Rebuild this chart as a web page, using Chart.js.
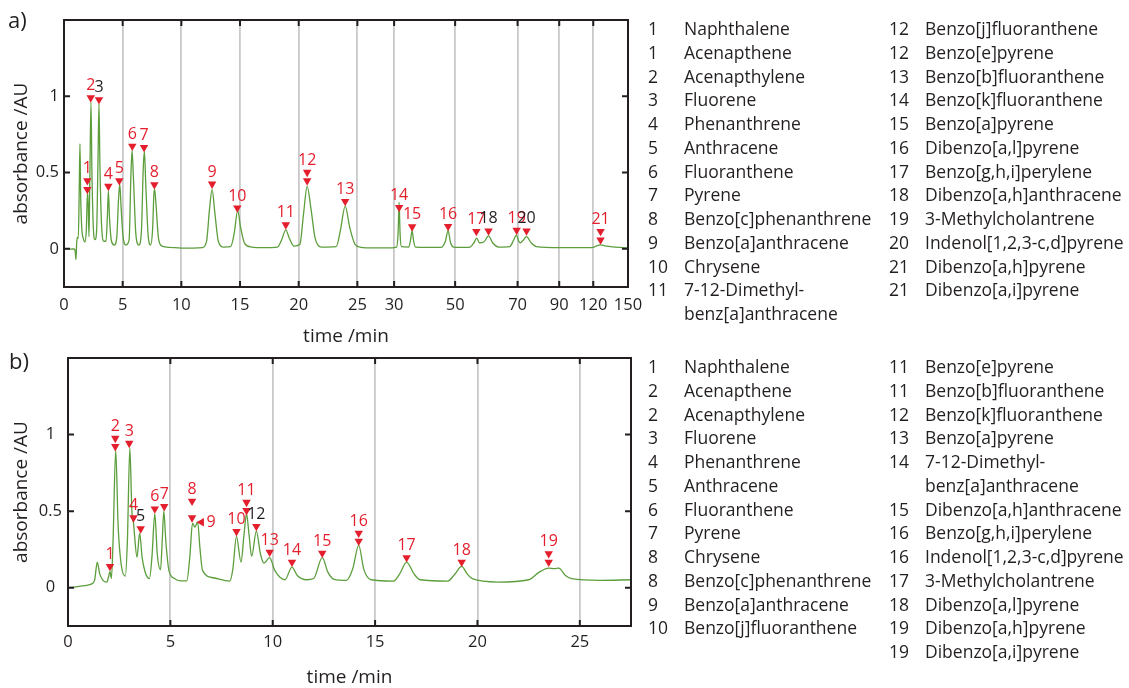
<!DOCTYPE html>
<html>
<head>
<meta charset="utf-8">
<script src="https://cdn.jsdelivr.net/npm/chart.js@4.4.1/dist/chart.umd.min.js"></script>
<style>
html,body{margin:0;padding:0;background:#fff;}
body{width:1129px;height:688px;position:relative;overflow:hidden;font-family:"Open Sans",sans-serif;color:#231f20;}
canvas{position:absolute;left:0;}
.panel{position:absolute;font-size:22px;line-height:22px;}
.leg{position:absolute;font-size:17.5px;line-height:23.75px;white-space:nowrap;}
.leg div{height:23.75px;}
</style>
</head>
<body>
<canvas id="cA" width="660" height="350" style="top:0px"></canvas>
<canvas id="cB" width="660" height="350" style="top:340px"></canvas>
<div class="panel" style="left:8px;top:8px;">a)</div>
<div class="panel" style="left:9px;top:349px;">b)</div>
<div id="legA"></div>
<div id="legB"></div>
<script>
// ================= DATA =================
// Panel a) chromatogram trace: [time /min, absorbance /AU]
const chromA = [
 [0,0],[0.3,0.002],[0.6,-0.002],[0.88,0],[0.96,-0.02],[1.02,-0.07],[1.08,0.04],[1.14,0.075],[1.22,0.07],[1.3,0.4],
 [1.36,0.69],[1.42,0.35],[1.52,0.13],[1.64,0.07],[1.78,0.045],[1.9,0.12],[2.0,0.37],[2.06,0.3],[2.13,0.08],[2.2,0.45],
 [2.3,0.96],[2.38,0.5],[2.5,0.14],[2.64,0.06],[2.78,0.12],[2.9,0.6],[2.98,0.95],[3.06,0.55],[3.2,0.16],[3.4,0.05],
 [3.58,0.05],[3.7,0.22],[3.78,0.38],[3.88,0.2],[4.05,0.05],[4.3,0.025],[4.5,0.08],[4.65,0.33],[4.75,0.425],[4.86,0.28],
 [5.02,0.09],[5.28,0.025],[5.55,0.06],[5.7,0.48],[5.8,0.645],[5.92,0.46],[6.12,0.1],[6.38,0.025],[6.6,0.12],[6.75,0.52],
 [6.85,0.64],[6.97,0.42],[7.18,0.08],[7.38,0.025],[7.55,0.13],[7.66,0.36],[7.73,0.39],[7.85,0.28],[8.05,0.07],[8.35,0.018],
 [9.0,0.01],[10.0,0.005],[11.0,0.005],[11.8,0.008],[12.15,0.05],[12.4,0.26],[12.62,0.39],[12.85,0.24],[13.15,0.05],[13.6,0.012],
 [14.2,0.015],[14.5,0.1],[14.8,0.25],[15.05,0.14],[15.4,0.035],[16.0,0.012],[17.0,0.008],[18.2,0.012],[18.55,0.06],[18.9,0.125],
 [19.2,0.07],[19.6,0.018],[20.1,0.03],[20.4,0.22],[20.72,0.41],[21.05,0.26],[21.4,0.07],[22.0,0.012],[23.2,0.015],[23.55,0.12],
 [23.96,0.28],[24.35,0.14],[24.8,0.03],[25.5,0.01],[27.0,0.006],[29.0,0.006],[30.8,0.012],[31.3,0.1],[31.64,0.305],[31.95,0.1],
 [32.4,0.015],[34.8,0.012],[35.4,0.06],[35.9,0.12],[36.4,0.05],[37.0,0.012],[45.5,0.01],[46.8,0.05],[47.7,0.12],[48.5,0.04],
 [49.5,0.012],[54.5,0.01],[56.0,0.04],[56.9,0.07],[57.8,0.04],[59.2,0.045],[60.7,0.085],[62.0,0.04],[64.0,0.012],[67.5,0.015],
 [68.8,0.06],[69.6,0.09],[70.6,0.05],[71.3,0.04],[72.6,0.055],[74.3,0.08],[76.5,0.04],[79.0,0.015],[90.0,0.008],[110.0,0.008],
 [120.0,0.01],[123.0,0.02],[126.3,0.026],[130.0,0.02],[135.0,0.015],[145.0,0.008],[150.0,0.005]
];
// Panel a) peak markers
const peakTimeA  = [1.99,1.99,2.28,2.98,3.78,4.71,5.82,6.82,7.70,12.62,14.77,18.9,20.72,20.72,23.96,31.64,35.9,47.7,56.8,60.7,69.7,74.3,126.3,126.3];
const peakMarkA  = [0.447,0.39,0.99,0.978,0.41,0.447,0.673,0.665,0.421,0.425,0.268,0.158,0.502,0.446,0.311,0.272,0.145,0.147,0.114,0.118,0.123,0.118,0.114,0.059];
const peakLabelA = ['1','','2','3','4','5','6','7','8','9','10','11','12','','13','14','15','16','17','18','19','20','21',''];
const xTicksA      = [0,5,10,15,20,25,30,50,70,90,120,150];
const xTickLabelsA = ['0','5','10','15','20','25','30','50','70','90','120','150'];

// Panel b) chromatogram trace
const chromB = [
 [0,0],[0.3,0.004],[0.6,0.01],[0.9,0.015],[1.15,0.025],[1.3,0.05],[1.43,0.167],[1.55,0.09],[1.7,0.05],[1.89,0.036],
 [1.98,0.07],[2.05,0.106],[2.12,0.06],[2.2,0.3],[2.33,0.9],[2.45,0.4],[2.6,0.15],[2.8,0.076],[2.9,0.3],[3.02,0.913],
 [3.12,0.5],[3.2,0.42],[3.37,0.2],[3.5,0.356],[3.62,0.2],[3.8,0.09],[3.98,0.06],[4.1,0.2],[4.24,0.483],[4.36,0.22],
 [4.52,0.117],[4.6,0.3],[4.68,0.5],[4.78,0.3],[4.93,0.113],[5.2,0.06],[5.5,0.045],[5.8,0.045],[5.95,0.2],[6.08,0.42],
 [6.2,0.395],[6.33,0.43],[6.45,0.25],[6.57,0.113],[7.1,0.065],[7.9,0.043],[8.05,0.12],[8.23,0.335],[8.45,0.167],[8.6,0.35],
 [8.72,0.483],[8.84,0.35],[8.97,0.204],[9.2,0.37],[9.4,0.22],[9.57,0.16],[9.85,0.196],[10.1,0.113],[10.6,0.052],[10.94,0.135],
 [11.2,0.08],[11.65,0.052],[12.0,0.06],[12.42,0.196],[12.7,0.1],[13.0,0.055],[13.6,0.048],[13.9,0.12],[14.2,0.276],[14.45,0.12],
 [14.8,0.052],[15.9,0.043],[16.2,0.09],[16.54,0.167],[16.9,0.09],[17.2,0.052],[18.55,0.043],[18.9,0.09],[19.23,0.139],[19.5,0.09],
 [19.75,0.059],[21.0,0.037],[22.5,0.052],[23.0,0.1],[23.48,0.128],[23.75,0.124],[23.97,0.128],[24.3,0.08],[24.6,0.059],[26.0,0.048],
 [27.5,0.052]
];
const peakTimeB  = [2.05,2.31,2.31,2.99,3.2,3.55,4.24,4.70,6.06,6.06,6.52,8.23,8.72,8.72,9.2,9.85,10.94,12.42,14.2,14.2,16.54,19.23,23.48,23.48];
const peakMarkB  = [0.139,0.976,0.922,0.943,0.457,0.385,0.515,0.53,0.565,0.457,0.428,0.367,0.558,0.504,0.40,0.232,0.167,0.226,0.356,0.304,0.196,0.167,0.222,0.167];
const peakLabelB = ['1','2','','3','4','5','6','7','8','','9','10','11','','12','13','14','15','16','','17','18','19',''];
const xTicksB      = [0,5,10,15,20,25];
const xTickLabelsB = ['0','5','10','15','20','25'];

const yTicks      = [0,0.5,1];
const yTickLabels = ['0','0.5','1'];

// Legends
const legNumA1  = ['1','1','2','3','4','5','6','7','8','9','10','11',''];
const legNameA1 = ['Naphthalene','Acenapthene','Acenapthylene','Fluorene','Phenanthrene','Anthracene','Fluoranthene','Pyrene','Benzo[c]phenanthrene','Benzo[a]anthracene','Chrysene','7-12-Dimethyl-','benz[a]anthracene'];
const legNumA2  = ['12','12','13','14','15','16','17','18','19','20','21','21'];
const legNameA2 = ['Benzo[j]fluoranthene','Benzo[e]pyrene','Benzo[b]fluoranthene','Benzo[k]fluoranthene','Benzo[a]pyrene','Dibenzo[a,l]pyrene','Benzo[g,h,i]perylene','Dibenzo[a,h]anthracene','3-Methylcholantrene','Indenol[1,2,3-c,d]pyrene','Dibenzo[a,h]pyrene','Dibenzo[a,i]pyrene'];
const legNumB1  = ['1','2','2','3','4','5','6','7','8','8','9','10'];
const legNameB1 = ['Naphthalene','Acenapthene','Acenapthylene','Fluorene','Phenanthrene','Anthracene','Fluoranthene','Pyrene','Chrysene','Benzo[c]phenanthrene','Benzo[a]anthracene','Benzo[j]fluoranthene'];
const legNumB2  = ['11','11','12','13','14','','15','16','16','17','18','19','19'];
const legNameB2 = ['Benzo[e]pyrene','Benzo[b]fluoranthene','Benzo[k]fluoranthene','Benzo[a]pyrene','7-12-Dimethyl-','benz[a]anthracene','Dibenzo[a,h]anthracene','Benzo[g,h,i]perylene','Indenol[1,2,3-c,d]pyrene','3-Methylcholantrene','Dibenzo[a,l]pyrene','Dibenzo[a,h]pyrene','Dibenzo[a,i]pyrene'];

// ================= STYLE / SCALE CONFIG =================
const INK = '#231f20', RED = '#e41f2d', GREEN = '#5c9e3c', GRID = '#c9c9c9';
const FONT = '"Open Sans", sans-serif';
Chart.defaults.font.family = FONT;
Chart.defaults.color = INK;

// panel a uses a segmented (non-uniform) time axis: axis position of each tick time
const axisPosA = [0,5,10,15,20,25,28.13,33.33,38.65,42.2,45.1,48.06];
function segmentMap(times, pos) {
  return t => {
    for (let i = 1; i < times.length; i++) {
      if (t <= times[i]) {
        const f = (t - times[i-1]) / (times[i] - times[i-1]);
        return pos[i-1] + f * (pos[i] - pos[i-1]);
      }
    }
    return pos[pos.length-1];
  };
}
const mapA = segmentMap(xTicksA, axisPosA);
const mapB = t => t;

const darkLabelsA = ['3','18','20'];
const darkLabelsB = ['5','12'];
const leftMarkersB = ['9'];

const framePlugin = {
  id: 'frame',
  afterDraw(chart) {
    const {ctx, chartArea: a, scales: {x, y}} = chart;
    ctx.save();
    ctx.strokeStyle = INK;
    ctx.lineWidth = 2;
    ctx.strokeRect(a.left, a.top, a.right - a.left, a.bottom - a.top);
    ctx.beginPath();
    x.ticks.forEach(tk => {
      const px = x.getPixelForValue(tk.value);
      if (px > a.left + 2 && px < a.right - 2) {
        ctx.moveTo(px, a.top); ctx.lineTo(px, a.top + 6);
        ctx.moveTo(px, a.bottom); ctx.lineTo(px, a.bottom - 6);
      }
    });
    y.ticks.forEach(tk => {
      const py = y.getPixelForValue(tk.value);
      ctx.moveTo(a.left, py); ctx.lineTo(a.left + 6, py);
      ctx.moveTo(a.right, py); ctx.lineTo(a.right - 6, py);
    });
    ctx.stroke();
    ctx.restore();
  }
};

const peakLabelPlugin = {
  id: 'peakLabels',
  afterDatasetsDraw(chart, args, opts) {
    const meta = chart.getDatasetMeta(0);
    const ctx = chart.ctx;
    ctx.save();
    ctx.font = '16px ' + FONT;
    ctx.textBaseline = 'middle';
    meta.data.forEach((el, i) => {
      const txt = opts.labels[i];
      if (!txt) return;
      ctx.fillStyle = opts.dark.includes(txt) ? INK : RED;
      if (opts.left.includes(txt)) {
        ctx.textAlign = 'left';
        ctx.fillText(txt, el.x + 5, el.y);
      } else {
        ctx.textAlign = 'center';
        ctx.fillText(txt, el.x, el.y - 12);
      }
    });
    ctx.restore();
  }
};

function buildChart(id, p) {
  const lineData = p.chrom.map(d => ({x: p.map(d[0]), y: d[1]}));
  const markData = p.peakTime.map((t, i) => ({x: p.map(t), y: p.peakMark[i]}));
  const tickPos = p.xTicks.map(p.map);
  return new Chart(document.getElementById(id), {
    type: 'scatter',
    data: {
      datasets: [
        {
          data: markData, showLine: false, order: 0,
          pointStyle: 'triangle', pointRadius: 4.9, pointHoverRadius: 4.9,
          rotation: c => p.left.includes(p.labels[c.dataIndex]) ? 270 : 180,
          backgroundColor: RED, borderWidth: 0
        },
        {
          data: lineData, showLine: true, order: 1,
          borderColor: GREEN, borderWidth: 1.3, pointRadius: 0,
          cubicInterpolationMode: 'monotone'
        }
      ]
    },
    options: {
      responsive: false, animation: false, devicePixelRatio: 1,
      events: [],
      layout: {padding: {top: p.padTop, right: p.padRight, left: 0, bottom: 0}},
      plugins: {
        legend: {display: false}, tooltip: {enabled: false},
        peakLabels: {labels: p.labels, dark: p.dark, left: p.left}
      },
      scales: {
        x: {
          type: 'linear', min: 0, max: p.xMax,
          afterBuildTicks: s => { s.ticks = tickPos.map(v => ({value: v})); },
          afterFit: s => { s.height = p.xHeight; },
          grid: {color: GRID, lineWidth: 1.8, drawTicks: false},
          border: {display: false},
          ticks: {padding: p.xTickPad, color: INK, font: {size: 16.5}, autoSkip: false, maxRotation: 0,
                  callback: (v, i) => p.xTickLabels[i]},
          title: {display: true, text: 'time /min', color: INK, font: {size: 19}, padding: {top: 0, bottom: p.xTitlePad}}
        },
        y: {
          type: 'linear', min: -0.25, max: 1.5,
          afterBuildTicks: s => { s.ticks = yTicks.map(v => ({value: v})); },
          afterFit: s => { s.width = p.yWidth; },
          grid: {display: false, drawTicks: false},
          border: {display: false},
          ticks: {padding: p.yTickPad, crossAlign: p.crossAlign, color: INK, font: {size: 16.5},
                  callback: (v, i) => yTickLabels[i]},
          title: {display: true, text: 'absorbance /AU', color: INK, font: {size: 19}, padding: {top: 10, bottom: 0}}
        }
      }
    },
    plugins: [framePlugin, peakLabelPlugin]
  });
}

buildChart('cA', {
  chrom: chromA, peakTime: peakTimeA, peakMark: peakMarkA, labels: peakLabelA,
  dark: darkLabelsA, left: [], map: mapA, xTicks: xTicksA, xTickLabels: xTickLabelsA,
  xMax: axisPosA[axisPosA.length-1], padTop: 20, padRight: 32, xHeight: 63, yWidth: 64,
  xTickPad: 8, xTitlePad: 2, yTickPad: 5, crossAlign: 'near'
});
buildChart('cB', {
  chrom: chromB, peakTime: peakTimeB, peakMark: peakMarkB, labels: peakLabelB,
  dark: darkLabelsB, left: leftMarkersB, map: mapB, xTicks: xTicksB, xTickLabels: xTickLabelsB,
  xMax: 27.5, padTop: 18, padRight: 29, xHeight: 64, yWidth: 68,
  xTickPad: 6, xTitlePad: 1, yTickPad: 6, crossAlign: 'center'
});

function buildLegend(id, top, cols) {
  const host = document.getElementById(id);
  cols.forEach(c => {
    const mk = (arr, left) => {
      const d = document.createElement('div');
      d.className = 'leg';
      d.style.left = left + 'px';
      d.style.top = top + 'px';
      d.innerHTML = arr.map(s => '<div>' + (s || '&nbsp;') + '</div>').join('');
      host.appendChild(d);
    };
    mk(c.nums, c.numLeft);
    mk(c.names, c.nameLeft);
  });
}
buildLegend('legA', 17, [
  {nums: legNumA1, names: legNameA1, numLeft: 648, nameLeft: 684},
  {nums: legNumA2, names: legNameA2, numLeft: 889, nameLeft: 925}
]);
buildLegend('legB', 355, [
  {nums: legNumB1, names: legNameB1, numLeft: 648, nameLeft: 684},
  {nums: legNumB2, names: legNameB2, numLeft: 889, nameLeft: 925}
]);
</script>
</body>
</html>
